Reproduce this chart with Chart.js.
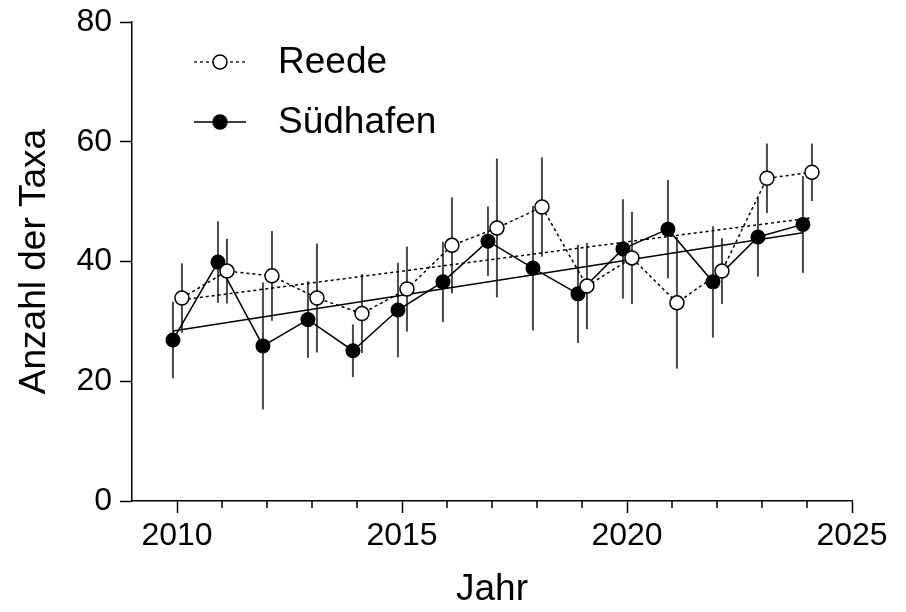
<!DOCTYPE html>
<html>
<head>
<meta charset="utf-8">
<script src="https://cdn.jsdelivr.net/npm/chart.js@4"></script>
<style>
  body { margin: 0; background: #fff; }
</style>
</head>
<body>
<canvas id="grafico" width="906" height="612"></canvas>
<script>
// Jahre und Messwerte (Mittelwert +/- Streuung)
const jahre = [2010, 2011, 2012, 2013, 2014, 2015, 2016, 2017, 2018, 2019, 2020, 2021, 2022, 2023, 2024];

const reede = [33.9, 38.4, 37.6, 33.9, 31.3, 35.4, 42.7, 45.6, 49.1, 35.9, 40.6, 33.1, 38.4, 53.9, 54.9];
const reedeFehler = [5.8, 5.4, 7.5, 9.1, 6.6, 7.1, 8.0, 11.6, 8.3, 7.2, 7.7, 11.0, 5.5, 5.8, 4.8];

const suedhafen = [26.9, 39.9, 25.9, 30.3, 25.1, 31.9, 36.6, 43.4, 38.9, 34.6, 42.1, 45.4, 36.6, 44.1, 46.2];
const suedhafenFehler = [6.4, 6.8, 10.6, 6.4, 4.4, 7.9, 6.7, 5.8, 10.4, 8.2, 8.3, 8.2, 9.3, 6.6, 8.1];

// Regressionsgeraden (Start- und Endwert)
const trendJahre = [2010, 2024];
const trendReede = [33.6, 47.3];
const trendSuedhafen = [28.4, 44.8];

const hauptTicks = [2010, 2015, 2020, 2025];
const nebenTicks = [2011, 2012, 2013, 2014, 2016, 2017, 2018, 2019, 2021, 2022, 2023, 2024];
const yTicks = [0, 20, 40, 60, 80];

// kleine Verschiebung, damit sich die Punkte nicht verdecken
const versatzReede = 0.11;
const versatzSued = -0.09;

const schrift = 'Liberation Sans, Arial, sans-serif';

const punkte = (werte, versatz) => werte.map((v, i) => ({ x: jahre[i] + versatz, y: v }));
const trend = (werte, versatz) => werte.map((v, i) => ({ x: trendJahre[i] + versatz, y: v }));

const fehlerbalken = {
    id: 'fehlerbalken',
    beforeDatasetsDraw(chart) {
        const c = chart.ctx;
        const x = chart.scales.x;
        const y = chart.scales.y;
        c.save();
        c.strokeStyle = '#4a4a4a';
        c.lineWidth = 2;
        const zeichne = (werte, fehler, versatz) => {
            werte.forEach((v, i) => {
                const px = x.getPixelForValue(jahre[i] + versatz);
                c.beginPath();
                c.moveTo(px, y.getPixelForValue(v - fehler[i]));
                c.lineTo(px, y.getPixelForValue(v + fehler[i]));
                c.stroke();
            });
        };
        zeichne(suedhafen, suedhafenFehler, versatzSued);
        zeichne(reede, reedeFehler, versatzReede);
        c.restore();
    }
};

const nebenStriche = {
    id: 'nebenStriche',
    afterDraw(chart) {
        const c = chart.ctx;
        const x = chart.scales.x;
        const unten = chart.chartArea.bottom;
        c.save();
        c.strokeStyle = '#000';
        c.lineWidth = 1.5;
        nebenTicks.forEach(j => {
            const px = x.getPixelForValue(j);
            c.beginPath();
            c.moveTo(px, unten);
            c.lineTo(px, unten + 7);
            c.stroke();
        });
        c.restore();
    }
};

const legende = {
    id: 'legende',
    afterDraw(chart) {
        const c = chart.ctx;
        const eintraege = [chart.data.datasets[0], chart.data.datasets[1]];
        c.save();
        eintraege.forEach((ds, i) => {
            const yy = 62 + i * 60;
            c.strokeStyle = '#000';
            c.lineWidth = 1.3;
            c.setLineDash(ds.borderDash || []);
            c.beginPath();
            c.moveTo(194, yy);
            c.lineTo(246, yy);
            c.stroke();
            c.setLineDash([]);
            c.beginPath();
            c.arc(220, yy, 7, 0, Math.PI * 2);
            c.fillStyle = ds.pointBackgroundColor;
            c.fill();
            c.lineWidth = 1.5;
            c.stroke();
            c.fillStyle = '#000';
            c.font = '37px ' + schrift;
            c.textBaseline = 'middle';
            c.fillText(ds.label, 278, yy + 1);
        });
        c.restore();
    }
};

new Chart(document.getElementById('grafico'), {
    type: 'line',
    data: {
        datasets: [{
            label: 'Reede',
            data: punkte(reede, versatzReede),
            borderColor: '#000',
            borderWidth: 1.5,
            borderDash: [3, 3],
            pointRadius: 7,
            pointBorderWidth: 1.5,
            pointBackgroundColor: '#fff',
            pointBorderColor: '#000',
            tension: 0
        }, {
            label: 'Südhafen',
            data: punkte(suedhafen, versatzSued),
            borderColor: '#000',
            borderWidth: 1.5,
            pointRadius: 7.5,
            pointBorderWidth: 0,
            pointBackgroundColor: '#000',
            pointBorderColor: '#000',
            tension: 0
        }, {
            label: 'Trend Reede',
            data: trend(trendReede, versatzReede),
            borderColor: '#000',
            borderWidth: 1.5,
            borderDash: [3, 3],
            pointRadius: 0
        }, {
            label: 'Trend Südhafen',
            data: trend(trendSuedhafen, versatzSued),
            borderColor: '#000',
            borderWidth: 1.5,
            pointRadius: 0
        }]
    },
    options: {
        responsive: false,
        animation: false,
        devicePixelRatio: 1,
        layout: {
            padding: { left: 0, right: 54, top: 22, bottom: 0 }
        },
        plugins: {
            legend: { display: false },
            tooltip: { enabled: false }
        },
        scales: {
            x: {
                type: 'linear',
                min: 2009,
                max: 2025,
                afterBuildTicks: s => { s.ticks = hauptTicks.map(v => ({ value: v })); },
                afterFit: s => { s.height = 111; },
                border: { color: '#000', width: 1.5 },
                grid: { drawOnChartArea: false, drawTicks: true, tickLength: 12, tickColor: '#000', tickWidth: 1.5 },
                ticks: {
                    color: '#000',
                    font: { family: schrift, size: 32 },
                    padding: 4,
                    maxRotation: 0,
                    callback: v => String(v)
                },
                title: {
                    display: true,
                    text: 'Jahr',
                    color: '#000',
                    font: { family: schrift, size: 37 },
                    padding: { top: 0, bottom: 0 }
                }
            },
            y: {
                min: 0,
                max: 80,
                afterBuildTicks: s => { s.ticks = yTicks.map(v => ({ value: v })); },
                afterFit: s => { s.width = 132; s.paddingTop = 0; s.paddingBottom = 0; },
                border: { color: '#000', width: 1.5 },
                grid: { drawOnChartArea: false, drawTicks: true, tickLength: 12, tickColor: '#000', tickWidth: 1.5 },
                ticks: {
                    color: '#000',
                    font: { family: schrift, size: 32 },
                    padding: 8
                },
                title: {
                    display: true,
                    text: 'Anzahl der Taxa',
                    color: '#000',
                    font: { family: schrift, size: 37 },
                    padding: { top: 13, bottom: 0 }
                }
            }
        }
    },
    plugins: [fehlerbalken, nebenStriche, legende]
});
</script>
</body>
</html>
